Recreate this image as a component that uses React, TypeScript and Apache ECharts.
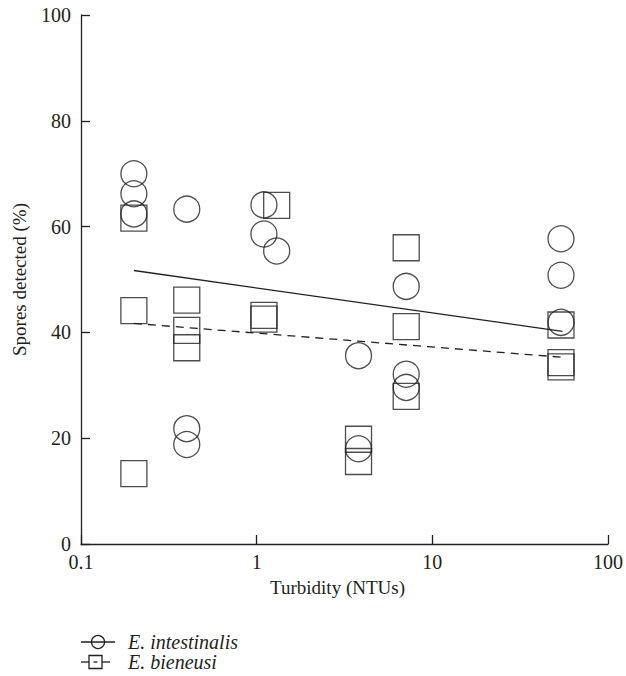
import React, { useEffect, useRef } from "react";
import * as echarts from "echarts";

// E. intestinalis (circles): [turbidity NTU, % spores detected]
const intestinalisX = [0.2, 0.2, 0.2, 0.4, 0.4, 0.4, 1.1, 1.1, 1.3, 3.8, 3.8, 7.1, 7.1, 7.1, 54, 54, 54];
const intestinalisY = [70.0, 66.2, 62.4, 63.3, 21.8, 18.8, 64.1, 58.6, 55.4, 35.6, 18.0, 48.7, 32.1, 29.6, 57.7, 50.8, 41.9];

// E. bieneusi (squares)
const bieneusiX = [0.2, 0.2, 0.2, 0.4, 0.4, 0.4, 1.3, 1.1, 1.1, 3.8, 3.8, 7.1, 7.1, 7.1, 54, 54, 54];
const bieneusiY = [61.6, 44.1, 13.3, 46.1, 40.4, 37.1, 64.0, 43.2, 42.5, 19.8, 15.6, 56.0, 41.1, 27.9, 41.4, 34.3, 33.5];

// Regression lines (start / end)
const fitX = [0.2, 55];
const intestinalisFitY = [51.7, 40.2];
const bieneusiFitY = [41.7, 35.3];

const xTicks = [0.1, 1, 10, 100];
const legendNames = ["E. intestinalis", "E. bieneusi"];

const FONT = "Liberation Serif";
const INK = "#231f20";

export default function App() {
  const ref = useRef<HTMLDivElement>(null);
  useEffect(() => {
    if (!ref.current) return;
    const chart = echarts.init(ref.current, null, { renderer: "svg" });
    const zip = (xs: number[], ys: number[]) => xs.map((x, i) => [x, ys[i]]);
    const stroke = { color: "transparent", borderColor: INK, borderWidth: 1.3 };
    chart.setOption({
      animation: false,
      backgroundColor: "#ffffff",
      grid: { left: 81, right: 16, top: 15, bottom: 132 },
      xAxis: {
        type: "log",
        logBase: 10,
        min: 0.1,
        max: 100,
        name: "Turbidity (NTUs)",
        nameLocation: "middle",
        nameGap: 34,
        nameTextStyle: { fontFamily: FONT, fontSize: 19, color: INK, padding: [0, 14, 0, 0] },
        axisLine: { lineStyle: { color: INK, width: 1.3 } },
        axisTick: { inside: true, length: 9, lineStyle: { color: INK, width: 1.3 } },
        axisLabel: {
          fontFamily: FONT,
          fontSize: 20,
          color: INK,
          margin: 8,
          formatter: (v: number) => {
            const t = xTicks.find((k) => Math.abs(k - v) / k < 1e-6);
            return t === undefined ? "" : String(t);
          },
        },
        splitLine: { show: false },
        minorTick: { show: false },
      },
      yAxis: {
        type: "value",
        min: 0,
        max: 100,
        interval: 20,
        name: "Spores detected (%)",
        nameLocation: "middle",
        nameGap: 52,
        nameTextStyle: { fontFamily: FONT, fontSize: 19, color: INK },
        axisLine: { show: true, lineStyle: { color: INK, width: 1.3 } },
        axisTick: { show: true, inside: true, length: 9, lineStyle: { color: INK, width: 1.3 } },
        axisLabel: { fontFamily: FONT, fontSize: 20, color: INK, margin: 10 },
        splitLine: { show: false },
      },
      series: [
        {
          name: legendNames[0],
          type: "scatter",
          symbol: "circle",
          symbolSize: 26,
          itemStyle: stroke,
          data: zip(intestinalisX, intestinalisY),
          z: 3,
        },
        {
          name: legendNames[1],
          type: "scatter",
          symbol: "rect",
          symbolSize: 26,
          itemStyle: stroke,
          data: zip(bieneusiX, bieneusiY),
          z: 3,
        },
        {
          name: legendNames[0] + " fit",
          type: "line",
          showSymbol: false,
          symbol: "none",
          lineStyle: { color: INK, width: 1.3 },
          data: zip(fitX, intestinalisFitY),
          z: 4,
        },
        {
          name: legendNames[1] + " fit",
          type: "line",
          showSymbol: false,
          symbol: "none",
          lineStyle: { color: INK, width: 1.3, type: [8, 6] },
          data: zip(fitX, bieneusiFitY),
          z: 4,
        },
      ],
      graphic: [
        { type: "line", shape: { x1: 81, y1: 642, x2: 115, y2: 642 }, style: { stroke: INK, lineWidth: 1.3 } },
        { type: "circle", shape: { cx: 98, cy: 642, r: 6.5 }, style: { fill: "none", stroke: INK, lineWidth: 1.3 } },
        {
          type: "text",
          x: 128,
          y: 642,
          style: { text: legendNames[0], fontFamily: FONT, fontSize: 20, fontStyle: "italic", fill: INK, verticalAlign: "middle" },
        },
        { type: "line", shape: { x1: 81, y1: 662, x2: 89, y2: 662 }, style: { stroke: INK, lineWidth: 1.3 } },
        { type: "rect", shape: { x: 89, y: 655.5, width: 13, height: 13 }, style: { fill: "none", stroke: INK, lineWidth: 1.3 } },
        { type: "line", shape: { x1: 93.5, y1: 662, x2: 97.5, y2: 662 }, style: { stroke: INK, lineWidth: 1.3 } },
        { type: "line", shape: { x1: 102, y1: 662, x2: 110, y2: 662 }, style: { stroke: INK, lineWidth: 1.3 } },
        {
          type: "text",
          x: 128,
          y: 662,
          style: { text: legendNames[1], fontFamily: FONT, fontSize: 20, fontStyle: "italic", fill: INK, verticalAlign: "middle" },
        },
      ],
    });
    return () => chart.dispose();
  }, []);
  return (
    <div
      ref={ref}
      style={{ position: "fixed", left: 0, top: 0, width: 626, height: 676, background: "#fff" }}
    />
  );
}
